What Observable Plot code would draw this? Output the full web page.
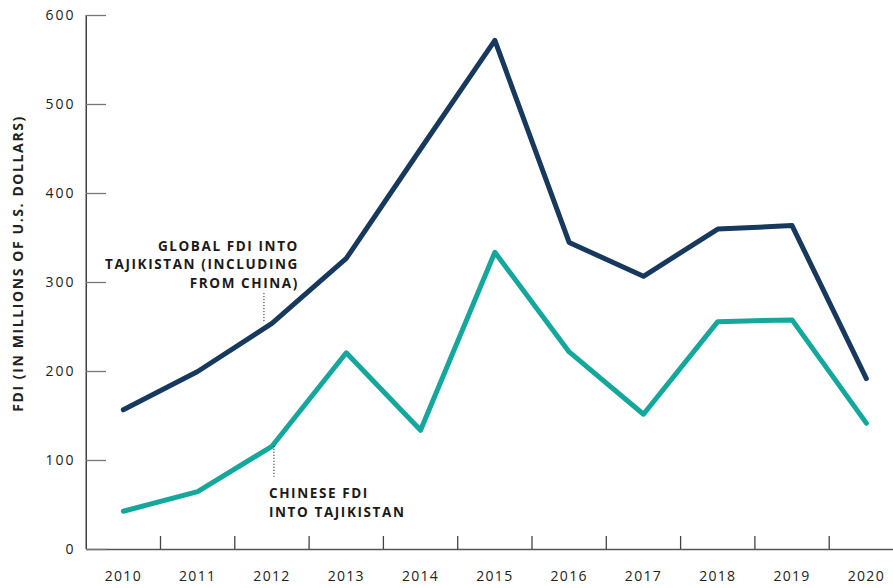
<!DOCTYPE html>
<html>
<head>
<meta charset="utf-8">
<script src="https://cdn.jsdelivr.net/npm/d3@7"></script>
<script src="https://cdn.jsdelivr.net/npm/@observablehq/plot@0.6"></script>
<style>
  html, body { margin: 0; padding: 0; background: #fff; overflow: hidden; }
  #chart svg { display: block; }
  #chart svg g[aria-label="y-axis tick label"] text { letter-spacing: 2px; }
  #chart svg g[aria-label="x-axis tick label"] text { letter-spacing: 1.3px; }
  #chart svg g[aria-label="text"] text { letter-spacing: 1.6px; }
</style>
</head>
<body>
<div id="chart"></div>
<script>
const years = [2010, 2011, 2012, 2013, 2014, 2015, 2016, 2017, 2018, 2019, 2020];
const globalFDI = [157, 200, 254, 327, 450, 572, 345, 307, 360, 364, 192];
const chineseFDI = [43, 65, 116, 221, 134, 334, 222, 152, 256, 258, 142];
const yTicks = [0, 100, 200, 300, 400, 500, 600];
const yLabel = "FDI (IN MILLIONS OF U.S. DOLLARS)";
const globalLabel = "GLOBAL FDI INTO\nTAJIKISTAN (INCLUDING\nFROM CHINA)";
const chineseLabel = "CHINESE FDI\nINTO TAJIKISTAN";
const labelYear = 2012;

const navy = "#16395d";
const teal = "#13a89b";

const globalData = years.map((year, i) => ({year, value: globalFDI[i]}));
const chineseData = years.map((year, i) => ({year, value: chineseFDI[i]}));
const boundaries = years.map(y => y - 0.5);
const gi = years.indexOf(labelYear);
const globalAnno = [{year: labelYear, value: globalFDI[gi], text: globalLabel}];
const chineseAnno = [{year: labelYear, value: chineseFDI[gi], text: chineseLabel}];

const W = 893, H = 588;
const mL = 86, mT = 15, mB = 39, mR = 0;
const step = 74.3;

const chart = Plot.plot({
  width: W,
  height: H,
  marginLeft: mL,
  marginTop: mT,
  marginBottom: mB,
  marginRight: mR,
  style: {fontFamily: "'Open Sans', sans-serif", background: "#fff", overflow: "hidden"},
  x: {type: "linear", domain: [years[0] - 0.5, years[years.length - 1] + 0.5], range: [85.7, 85.7 + step * years.length]},
  y: {domain: [0, 600], range: [H - mB, mT]},
  marks: [
    Plot.ruleX([boundaries[0]], {stroke: "#111", strokeWidth: 1.2}),
    Plot.ruleY([0], {stroke: "#555", strokeWidth: 1.5}),
    Plot.ruleX(boundaries.slice(1), {x: d => d, stroke: "#444", strokeWidth: 1.3, insetTop: (H - mB - mT) - 13}),
    Plot.ruleY(yTicks, {y: d => d, stroke: "#777", strokeWidth: 1.3, insetRight: (W - mL - mR) - 20}),
    Plot.axisY({ticks: yTicks, tickSize: 0, tickPadding: 11, label: null, fontSize: 14, fill: "#222"}),
    Plot.axisX({ticks: years, tickSize: 0, tickPadding: 22, tickFormat: d => String(d), label: null, fontSize: 14, fill: "#222"}),
    Plot.text([yLabel], {text: d => d, frameAnchor: "left", textAnchor: "middle", dx: -68, dy: -19, rotate: -90, fontSize: 14, fontWeight: "bold", fill: "#222"}),
    Plot.line(globalData, {x: "year", y: "value", stroke: navy, strokeWidth: 5, strokeLinejoin: "round", strokeLinecap: "round"}),
    Plot.line(chineseData, {x: "year", y: "value", stroke: teal, strokeWidth: 5, strokeLinejoin: "round", strokeLinecap: "round"}),
    Plot.ruleX(globalAnno, {x: "year", y1: "value", y2: "value", insetTop: -30, dx: -8, stroke: "#222", strokeWidth: 1, strokeDasharray: "1.2,1.8"}),
    Plot.ruleX(chineseAnno, {x: "year", y1: "value", y2: "value", insetBottom: -31, dx: 2, stroke: "#222", strokeWidth: 1, strokeDasharray: "1.2,1.8"}),
    Plot.text(globalAnno, {x: "year", y: "value", text: "text", textAnchor: "end", dx: 27, dy: -60, lineHeight: 1.38, fontSize: 13.5, fontWeight: "bold", fill: "#1a1a1a"}),
    Plot.text(chineseAnno, {x: "year", y: "value", text: "text", textAnchor: "start", dx: -3, dy: 55, lineHeight: 1.38, fontSize: 13.5, fontWeight: "bold", fill: "#1a1a1a"})
  ]
});
document.getElementById("chart").appendChild(chart);
</script>
</body>
</html>
